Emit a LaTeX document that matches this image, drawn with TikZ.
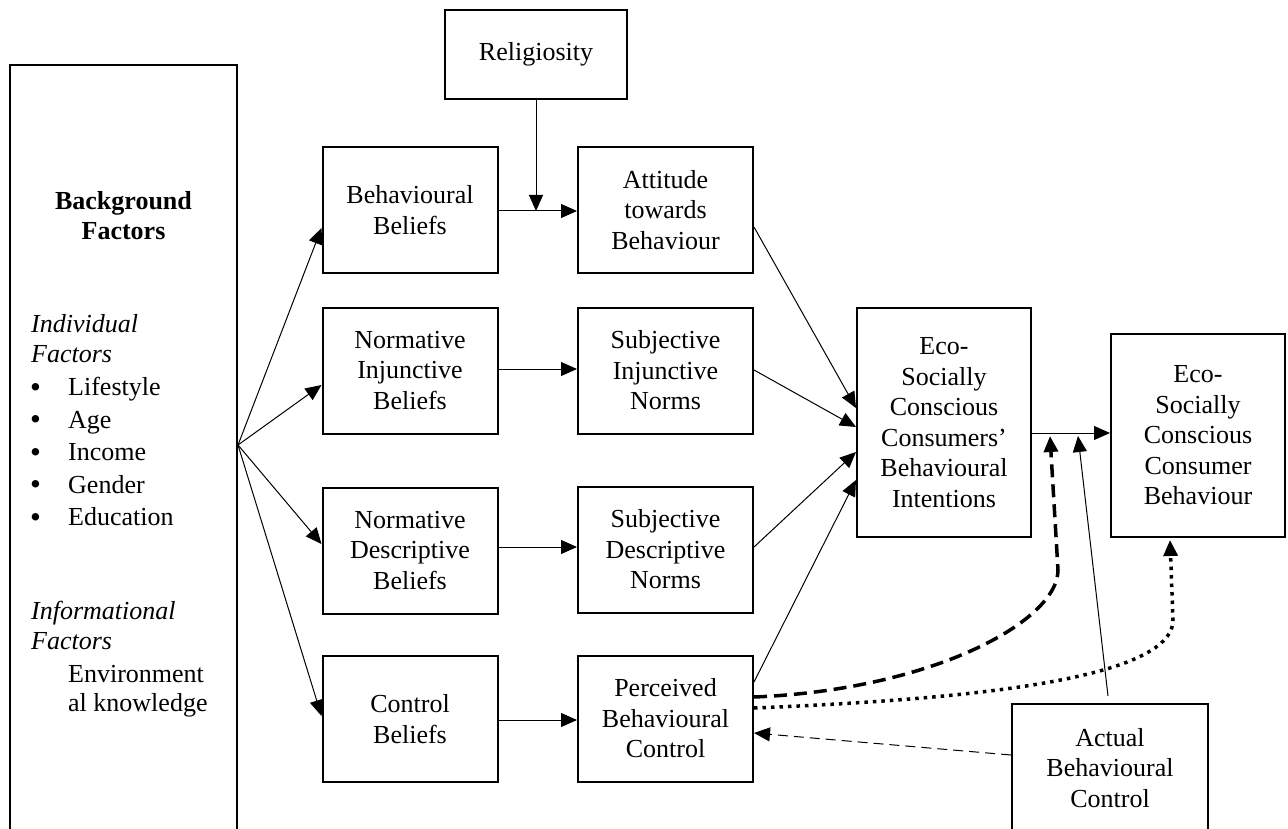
\documentclass[tikz,border=0pt]{standalone}
\usepackage{fontspec}
\setmainfont{Liberation Serif}
\usetikzlibrary{arrows.meta,calc}
\begin{document}
\begin{tikzpicture}[x=1pt,y=-1pt,
  body/.style={font=\fontsize{26}{30.5}\selectfont},
  box/.style={draw,line width=2pt,align=center,inner sep=0pt,body},
  smallbox/.style={box,minimum width=175pt,minimum height=126pt},
  line/.style={anchor=base west,inner sep=0pt,body},
  tip/.style={-{Triangle[length=16pt,width=14pt]}},
  link/.style={line width=1pt,tip},
  bolddash/.style={line width=3.5pt,dash pattern=on 13pt off 7pt,tip},
  bolddot/.style={line width=3.5pt,dash pattern=on 3.5pt off 5pt,tip},
  thindash/.style={line width=1pt,dash pattern=on 10pt off 6pt,tip}]
\useasboundingbox (0,0) rectangle (1288,829);
\clip (0,0) rectangle (1288,829);

% background factors column
\node[draw,line width=2pt,minimum width=227pt,minimum height=790pt,inner sep=0pt] (bg) at (123.5,460) {};
\node[anchor=base,inner sep=0pt,body,font=\fontsize{26}{30.5}\selectfont\bfseries] (bgt1) at (123.5,210) {Background};
\node[anchor=base,inner sep=0pt,body,font=\fontsize{26}{30.5}\selectfont\bfseries] (bgt2) at (123.5,240) {Factors};
\node[line,font=\fontsize{26}{30.5}\selectfont\itshape] (ind1) at (31,332) {Individual};
\node[line,font=\fontsize{26}{30.5}\selectfont\itshape] (ind2) at (31,362) {Factors};
\foreach \w [count=\i] in {Lifestyle,Age,Income,Gender,Education}{
  \node[line,font=\fontsize{31}{31}\selectfont] (dot\i) at (30,{364.5+32.5*\i}) {•};
  \node[line] (item\i) at (68,{363+32.5*\i}) {\w};
}
\node[line,font=\fontsize{26}{30.5}\selectfont\itshape] (inf1) at (31,619) {Informational};
\node[line,font=\fontsize{26}{30.5}\selectfont\itshape] (inf2) at (31,649) {Factors};
\node[line] (env1) at (68,682) {Environment};
\node[line] (env2) at (68,711) {al knowledge};

% belief and norm boxes
\node[box,minimum width=182pt,minimum height=89pt] (rel) at (536,54.5) {Religiosity};
\node[smallbox] (bb)  at (410,210)   {Behavioural\\Beliefs};
\node[smallbox] (att) at (665.5,210) {Attitude\\towards\\Behaviour};
\node[smallbox] (nib) at (410,370.5) {Normative\\Injunctive\\Beliefs};
\node[smallbox] (sin) at (665.5,370.5) {Subjective\\Injunctive\\Norms};
\node[smallbox] (ndb) at (410,550.5) {Normative\\Descriptive\\Beliefs};
\node[smallbox] (sdn) at (665.5,549.5) {Subjective\\Descriptive\\Norms};
\node[smallbox] (cb)  at (410,719)   {Control\\Beliefs};
\node[smallbox] (pbc) at (665.5,718.5) {Perceived\\Behavioural\\Control};

% intention, behaviour and actual control
\node[box,minimum width=174pt,minimum height=229pt] (int) at (944,422.5) {Eco-\\Socially\\Conscious\\Consumers’\\Behavioural\\Intentions};
\node[box,minimum width=174pt,minimum height=203pt] (beh) at (1198,435.5) {Eco-\\Socially\\Conscious\\Consumer\\Behaviour};
\node[box,minimum width=196pt,minimum height=128pt] (act) at (1110,768) {Actual\\Behavioural\\Control};

% fan from the background factors
\coordinate (fan) at (bg.east |- 0,445);
\draw[link] (fan) -- (bb.west |- 0,228);
\draw[link] (fan) -- (nib.west |- 0,385);
\draw[link] (fan) -- (ndb.west |- 0,544);
\draw[link] (fan) -- (cb.west |- 0,716);

% beliefs to attitude and norms
\draw[link] (bb.east |- 0,211) -- (att.west |- 0,211);
\draw[link] (rel.south) -- (rel.south |- 0,211);
\draw[link] (nib.east |- 0,369) -- (sin.west |- 0,369);
\draw[link] (ndb.east |- 0,547) -- (sdn.west |- 0,547);
\draw[link] (cb.east |- 0,720) -- (pbc.west |- 0,720);

% into intentions
\draw[link] (att.east |- 0,227) -- (int.west |- 0,408);
\draw[link] (sin.east |- 0,370) -- (int.west |- 0,427);
\draw[link] (sdn.east |- 0,547) -- (int.west |- 0,452);
\draw[link] (pbc.east |- 0,682) -- (int.west |- 0,480);

% intention to behaviour and the control paths
\coordinate (joinD) at (1050,436);
\coordinate (joinA) at (1078,436);
\draw[link] (int.east |- 0,433) -- (beh.west |- 0,433);
\draw[bolddash] (pbc.east |- 0,697) .. controls (930,690) and (1058,622) .. (1058,570) -- (joinD);
\draw[bolddot] (pbc.east |- 0,708) .. controls (950,700) and (1173,682) .. (1173,620) -- ($(beh.south)+(-28,2)$);
\draw[link] ($(act.north)+(-2,-7)$) -- (joinA);
\draw[thindash] (act.west |- 0,755) -- (pbc.east |- 0,733);
\end{tikzpicture}
\end{document}
